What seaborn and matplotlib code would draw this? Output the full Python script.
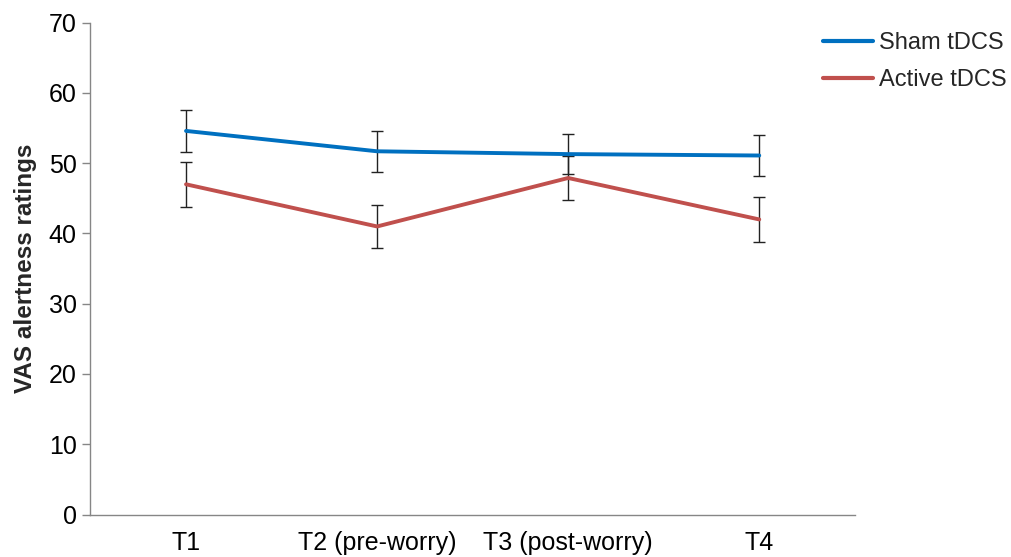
import matplotlib
matplotlib.use("Agg")
import matplotlib.pyplot as plt
import seaborn as sns
import pandas as pd
import numpy as np

categories = ["T1", "T2 (pre-worry)", "T3 (post-worry)", "T4"]
sham = [54.6, 51.7, 51.3, 51.1]
sham_err = [2.95, 2.95, 2.85, 2.85]
active = [47.0, 41.0, 47.9, 42.0]
active_err = [3.2, 3.1, 3.1, 3.2]
series_names = ["Sham tDCS", "Active tDCS"]
colors = ["#0070C0", "#C0504D"]

sns.set_theme(style="white")
plt.rcParams['font.family'] = ['Liberation Sans', 'DejaVu Sans']

x = np.arange(len(categories))
df = pd.DataFrame({
    "x": np.concatenate([x, x]),
    "value": sham + active,
    "series": [series_names[0]] * 4 + [series_names[1]] * 4,
})

fig = plt.figure(figsize=(10.11, 5.57), dpi=100)
ax = fig.add_axes([0.0895, 0.0763, 0.756, 0.8829])

sns.lineplot(data=df, x="x", y="value", hue="series", palette=colors,
             linewidth=2.8, ax=ax, legend=True)

for vals, errs in [(sham, sham_err), (active, active_err)]:
    ax.errorbar(x, vals, yerr=errs, fmt="none", ecolor="#222222",
                elinewidth=1.0, capsize=4, capthick=1.0, zorder=1)

ax.set_xlim(-0.5, 3.5)
ax.set_ylim(0, 70)
ax.set_yticks(range(0, 71, 10))
ax.set_xticks(x)
ax.set_xticklabels(categories)
ax.set_xticks(np.arange(-0.5, 4.0, 1.0), minor=True)
ax.tick_params(axis="x", which="major", length=0, pad=12, labelsize=18, colors="black")
ax.tick_params(axis="x", which="minor", length=8, width=1, color="#868686", direction="out")
ax.tick_params(axis="y", which="major", length=6, width=1, color="#868686",
               direction="out", left=True, labelsize=18, labelcolor="black", pad=4)
ax.set_xlabel("")
ax.set_ylabel("VAS alertness ratings", fontsize=17.5, fontweight="bold", labelpad=8)

for side in ["top", "right"]:
    ax.spines[side].set_visible(False)
for side in ["left", "bottom"]:
    ax.spines[side].set_color("#868686")
    ax.spines[side].set_linewidth(1)

leg = ax.legend(loc="upper left", bbox_to_anchor=(0.930, 1.024), frameon=False,
                fontsize=17, handlelength=2.12, handletextpad=0.25, labelspacing=0.64)
for line in leg.get_lines():
    line.set_linewidth(3)

fig.savefig("out.png", dpi=100)
